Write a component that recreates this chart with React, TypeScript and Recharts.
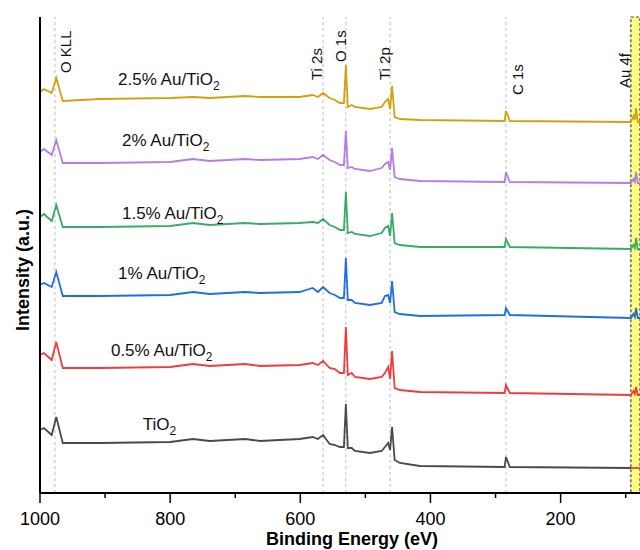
import React from 'react';
import { LineChart, Line, XAxis, YAxis, ReferenceLine, ReferenceArea, ReferenceDot } from 'recharts';

const FONT = '"Liberation Sans", Arial, Helvetica, sans-serif';

// Binding energy (eV) sample points
const ENERGY = [1000, 994, 982, 975, 965, 908, 800, 765, 739, 685, 662, 601, 581, 573, 565, 555, 547, 539, 533, 530, 527, 521, 516, 493, 475, 470, 465, 462, 459, 455, 447, 416, 286, 284, 278, 92, 88, 86, 84, 81.5, 78];

// Intensity (a.u., stacked offsets included)
const TIO2 = [63, 65, 58, 76, 50, 50, 51, 54, 52, 54, 52, 54, 56, 54, 58, 49, 48, 46, 46, 89, 45, 45, 42, 40, 42, 46, 50, 43, 66, 33, 30, 27, 26, 36, 26, 25];
const AU05 = [138, 140, 133, 151, 125, 125, 126, 129, 127, 129, 127, 128, 130, 128, 132, 125, 124, 120, 120, 166, 118, 120, 116, 114, 116, 120, 126, 114, 142, 105, 103, 101, 100, 108, 100, 98, 102, 99, 106, 98, 98];
const AU10 = [208, 210, 206, 221, 197, 197, 198, 201, 199, 201, 200, 201, 205, 201, 206, 200, 198, 195, 195, 235, 193, 193, 190, 188, 190, 197, 198, 190, 212, 181, 179, 177, 178, 185, 178, 175, 179, 176, 185, 175, 175];
const AU15 = [276, 279, 272, 288, 266, 266, 267, 270, 268, 270, 269, 270, 271, 270, 274, 268, 266, 263, 263, 301, 260, 261, 259, 257, 260, 265, 267, 257, 280, 250, 248, 246, 246, 254, 246, 244, 248, 245, 255, 244, 244];
const AU20 = [341, 344, 338, 353, 330, 330, 331, 334, 332, 334, 333, 334, 336, 334, 338, 333, 331, 328, 328, 362, 325, 326, 324, 322, 325, 329, 331, 323, 345, 316, 314, 312, 311, 321, 311, 310, 314, 311, 321, 310, 310];
const AU25 = [401, 404, 400, 415, 392, 394, 395, 396, 395, 397, 396, 396, 398, 396, 400, 395, 393, 390, 390, 428, 386, 388, 386, 384, 386, 391, 394, 384, 407, 376, 374, 373, 372, 382, 372, 371, 377, 373, 385, 371, 371];

// short red tail drawn on the TiO2 level inside the Au 4f window
const TAIL_ENERGY = [92, 78];
const TAIL_VALUES = [25, 25];

const SERIES = [
  { key: 'tio2', values: TIO2, color: '#4a4a4a' },
  { key: 'au05', values: AU05, color: '#f03c3c' },
  { key: 'au10', values: AU10, color: '#1f6fe0' },
  { key: 'au15', values: AU15, color: '#3aaa68' },
  { key: 'au20', values: AU20, color: '#b57ee3' },
  { key: 'au25', values: AU25, color: '#d3a00e' },
];

const SERIES_LABELS = [
  { prefix: '2.5% Au/', e: 880, v: 408 },
  { prefix: '2% Au/', e: 874, v: 347 },
  { prefix: '1.5% Au/', e: 874, v: 274 },
  { prefix: '1% Au/', e: 880, v: 214 },
  { prefix: '0.5% Au/', e: 891, v: 137 },
  { prefix: '', e: 842, v: 63 },
];

const PEAK_LINES = [977, 565, 530, 462, 284];
const PEAK_LABELS = [
  { text: 'O KLL', e: 952, v: 420 },
  { text: 'Ti 2s', e: 567, v: 413 },
  { text: 'O 1s', e: 530, v: 431 },
  { text: 'Ti 2p', e: 462, v: 413 },
  { text: 'C 1s', e: 258, v: 398 },
  { text: 'Au 4f', e: 93.4, v: 405 },
];

const AU_WINDOW = [92, 78];
const X_TICKS = [1000, 900, 800, 700, 600, 500, 400, 300, 200, 100];
const X_MAJOR = [1000, 800, 600, 400, 200];

const rows = ENERGY.map((e, i) => {
  const r: any = { e };
  SERIES.forEach((s) => {
    r[s.key] = i < s.values.length ? s.values[i] : null;
  });
  return r;
});
const tailRows = TAIL_ENERGY.map((e, i) => ({ e, v: TAIL_VALUES[i] }));

const XTick = (props: any) => {
  const { x, y, payload } = props;
  const major = X_MAJOR.includes(payload.value);
  return (
    <g>
      <line x1={x} x2={x} y1={y} y2={y + (major ? 10 : 5)} stroke="#000" strokeWidth={1.5} />
      {major && (
        <text x={x} y={y + 32} textAnchor="middle" fontSize={18} fontFamily={FONT} fill="#000">
          {payload.value}
        </text>
      )}
    </g>
  );
};

export default function App() {
  return (
    <div style={{ position: 'absolute', left: 0, top: 0, width: 640, height: 550, background: '#fff' }}>
      <LineChart width={640} height={550} data={rows} margin={{ top: 17, right: 0, left: 0, bottom: 0 }}>
        <ReferenceArea
          x1={AU_WINDOW[0]}
          x2={AU_WINDOW[1]}
          fill="#ffff80"
          fillOpacity={1}
          stroke="#444"
          strokeDasharray="3 2"
          strokeWidth={1.2}
          ifOverflow="visible"
        />
        {PEAK_LINES.map((e) => (
          <ReferenceLine key={e} x={e} stroke="#bdbdbd" strokeDasharray="3 3" strokeWidth={1} />
        ))}
        <XAxis
          dataKey="e"
          type="number"
          domain={[78, 1000]}
          reversed
          ticks={X_TICKS}
          interval={0}
          tick={<XTick />}
          tickLine={false}
          tickSize={0}
          tickMargin={0}
          axisLine={{ stroke: '#000', strokeWidth: 2 }}
          height={57}
          allowDataOverflow
          label={{
            content: (p: any) => {
              const vb = p.viewBox || { x: 40, y: 493, width: 600 };
              return (
                <text
                  x={vb.x + vb.width / 2 + 12}
                  y={vb.y + 52}
                  textAnchor="middle"
                  fontSize={18}
                  fontWeight="bold"
                  fontFamily={FONT}
                  fill="#000"
                >
                  Binding Energy (eV)
                </text>
              );
            },
          }}
        />
        <YAxis
          type="number"
          domain={[0, 476]}
          width={40}
          tick={false}
          tickLine={false}
          axisLine={{ stroke: '#000', strokeWidth: 2 }}
          label={{
            content: (p: any) => {
              const vb = p.viewBox || { x: 0, y: 17, width: 40, height: 476 };
              const cx = 29;
              const cy = vb.y + vb.height / 2 + 15;
              return (
                <text
                  x={cx}
                  y={cy}
                  transform={`rotate(-90 ${cx} ${cy})`}
                  textAnchor="middle"
                  fontSize={18}
                  fontWeight="bold"
                  fontFamily={FONT}
                  fill="#000"
                >
                  Intensity (a.u.)
                </text>
              );
            },
          }}
        />
        {SERIES.map((s) => (
          <Line
            key={s.key}
            dataKey={s.key}
            stroke={s.color}
            strokeWidth={1.8}
            dot={false}
            type="linear"
            isAnimationActive={false}
            connectNulls={false}
          />
        ))}
        <Line
          data={tailRows}
          dataKey="v"
          stroke="#f03c3c"
          strokeWidth={1.8}
          dot={false}
          type="linear"
          isAnimationActive={false}
        />
        {SERIES_LABELS.map((l, i) => (
          <ReferenceDot
            key={'sl' + i}
            x={l.e}
            y={l.v}
            r={0}
            shape={(p: any) => (
              <text x={p.cx} y={p.cy} fontSize={17} fontFamily={FONT} fill="#111">
                {l.prefix}TiO
                <tspan fontSize={12} dy={5}>2</tspan>
              </text>
            )}
          />
        ))}
        {PEAK_LABELS.map((l, i) => (
          <ReferenceDot
            key={'pl' + i}
            x={l.e}
            y={l.v}
            r={0}
            shape={(p: any) => (
              <text
                x={p.cx}
                y={p.cy}
                transform={`rotate(-90 ${p.cx} ${p.cy})`}
                fontSize={15}
                fontFamily={FONT}
                fill="#111"
              >
                {l.text}
              </text>
            )}
          />
        ))}
      </LineChart>
    </div>
  );
}
